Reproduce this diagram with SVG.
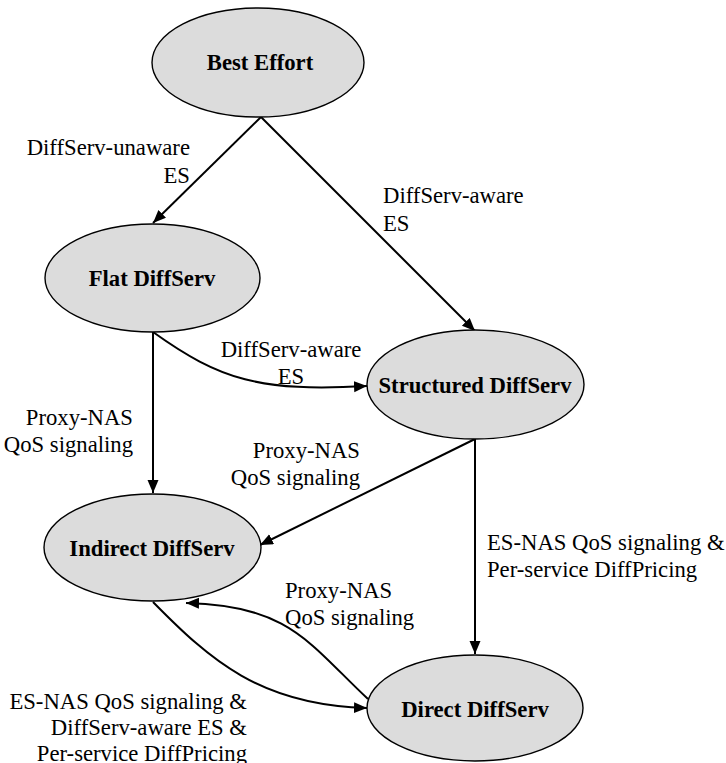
<svg xmlns="http://www.w3.org/2000/svg" width="726" height="763" viewBox="0 0 726 763">
  <defs>
    <marker id="arrow" markerUnits="userSpaceOnUse" markerWidth="14" markerHeight="12" refX="13" refY="5.5" orient="auto">
      <path d="M0,0 L13,5.5 L0,11 z" fill="#000"/>
    </marker>
    <style>
      .state ellipse { fill: #dcdcdc; stroke: #000; stroke-width: 1.4; }
      .state text { font-family: "Liberation Serif", "Times New Roman", serif; font-weight: bold; font-size: 22.7px; text-anchor: middle; fill: #000; }
      .edge { fill: none; stroke: #000; stroke-width: 2; marker-end: url(#arrow); }
      .lbl { font-family: "Liberation Serif", "Times New Roman", serif; font-size: 22.7px; fill: #000; }
      .end { text-anchor: end; }
      .mid { text-anchor: middle; }
    </style>
  </defs>

  <rect width="726" height="763" fill="#fff"/>

  <!-- transitions between QoS levels -->
  <g id="connectors">
    <path class="edge" d="M261,117 L153,223"/>
    <path class="edge" d="M261,117 L475,331"/>
    <path class="edge" d="M153,332 C220,380 260,392 367,386"/>
    <path class="edge" d="M153,332 L153,493"/>
    <path class="edge" d="M475,439 L260,545"/>
    <path class="edge" d="M475,439 L475,654"/>
    <path class="edge" d="M153,602 C210,660 260,705 367,708"/>
    <path class="edge" d="M368,699 C310,645 290,605 186,603"/>
  </g>

  <!-- transition labels -->
  <g id="edge-labels">
    <text class="lbl end" x="190" y="155">DiffServ-unaware</text>
    <text class="lbl end" x="190" y="183">ES</text>

    <text class="lbl" x="383" y="203">DiffServ-aware</text>
    <text class="lbl" x="383" y="231">ES</text>

    <text class="lbl mid" x="291" y="357">DiffServ-aware</text>
    <text class="lbl mid" x="291" y="384">ES</text>

    <text class="lbl end" x="133" y="425">Proxy-NAS</text>
    <text class="lbl end" x="133" y="452">QoS signaling</text>

    <text class="lbl end" x="360" y="458">Proxy-NAS</text>
    <text class="lbl end" x="360" y="485">QoS signaling</text>

    <text class="lbl" x="487" y="550">ES-NAS QoS signaling &amp;</text>
    <text class="lbl" x="487" y="577">Per-service DiffPricing</text>

    <text class="lbl" x="285" y="598">Proxy-NAS</text>
    <text class="lbl" x="285" y="625">QoS signaling</text>

    <text class="lbl end" x="247" y="709">ES-NAS QoS signaling &amp;</text>
    <text class="lbl end" x="247" y="735">DiffServ-aware ES &amp;</text>
    <text class="lbl end" x="247" y="761">Per-service DiffPricing</text>
  </g>

  <!-- QoS levels -->
  <g id="best-effort" class="state">
    <ellipse cx="258" cy="62.5" rx="106" ry="54.5"/>
    <text x="260" y="70">Best Effort</text>
  </g>
  <g id="flat-diffserv" class="state">
    <ellipse cx="152.5" cy="278" rx="107.5" ry="54"/>
    <text x="152" y="286">Flat DiffServ</text>
  </g>
  <g id="structured-diffserv" class="state">
    <ellipse cx="475.5" cy="384.5" rx="108.5" ry="54.5"/>
    <text x="475" y="393">Structured DiffServ</text>
  </g>
  <g id="indirect-diffserv" class="state">
    <ellipse cx="152.5" cy="547.5" rx="108.5" ry="53.5"/>
    <text x="152" y="556">Indirect DiffServ</text>
  </g>
  <g id="direct-diffserv" class="state">
    <ellipse cx="475" cy="708" rx="108" ry="53"/>
    <text x="475" y="717">Direct DiffServ</text>
  </g>
</svg>
